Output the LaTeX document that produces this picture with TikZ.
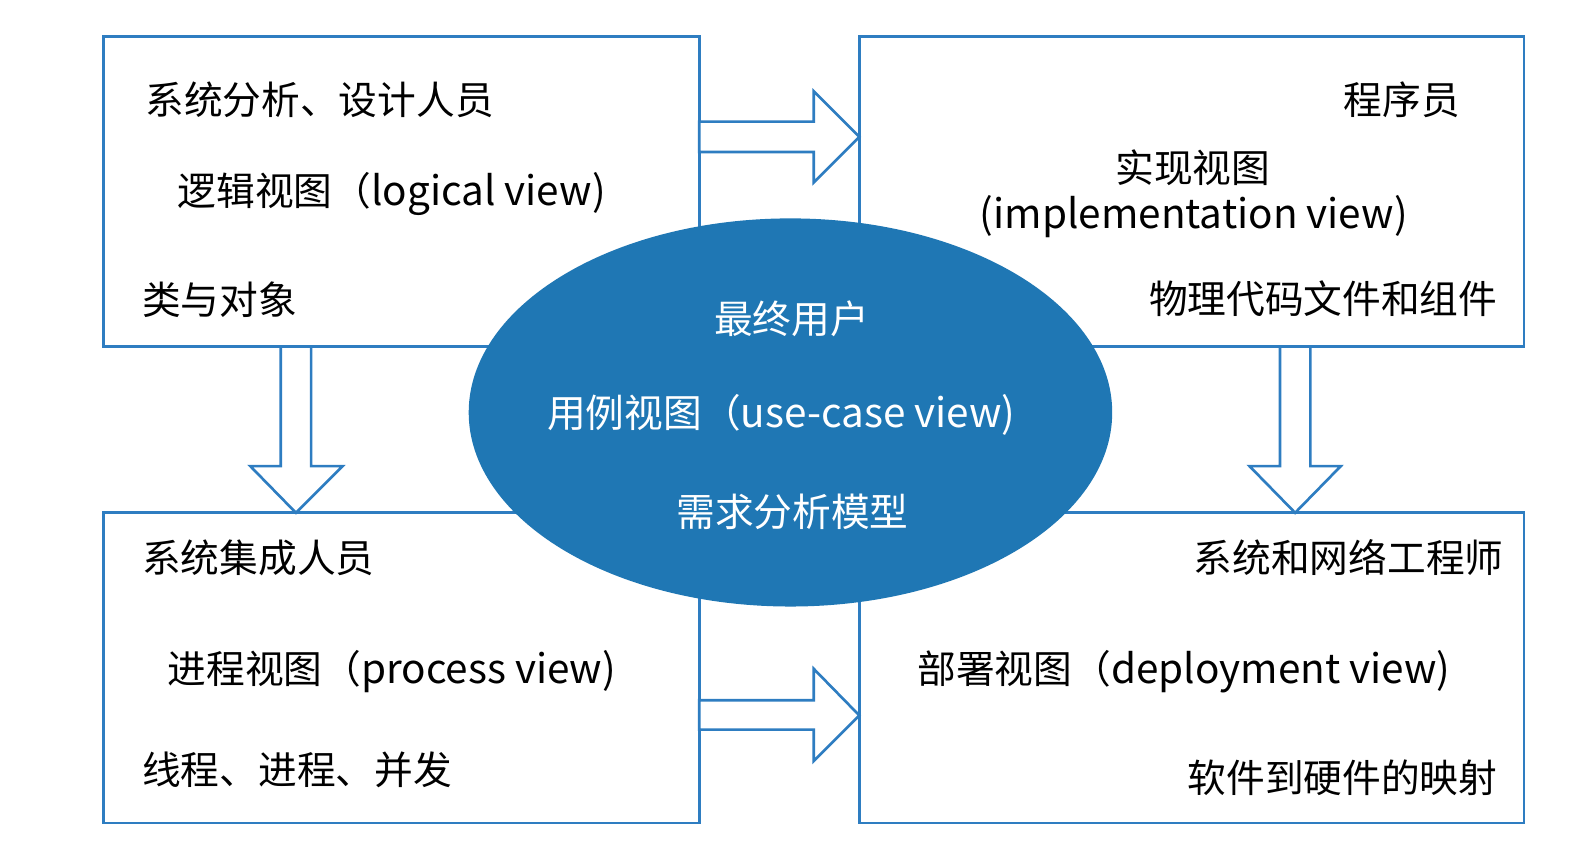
\documentclass[tikz,border=0pt]{standalone}
\usepackage{fontspec}
\setmainfont{Noto Sans CJK SC}
\newfontfamily\latfont[Scale=1.045]{Noto Sans CJK SC}
\newcommand{\lat}[1]{{\latfont #1}}
\usetikzlibrary{shapes.geometric}
\definecolor{lineblue}{RGB}{46,125,193}
\definecolor{fillblue}{RGB}{31,119,180}
\tikzset{
  box/.style={draw=lineblue, line width=1.3pt, fill=white, anchor=north west, inner sep=0pt, outer sep=0pt, minimum width=294pt, minimum height=153pt},
  boxw/.style={box, minimum width=328pt},
  bigarrow/.style={draw=lineblue, line width=1.3pt, fill=white, line join=miter},
  txt/.style={inner sep=0pt, font=\fontsize{19.1}{23}\selectfont, text=black},
  wtxt/.style={txt, text=white},
  usecase/.style={ellipse, fill=fillblue, draw=none, inner sep=0pt, minimum width=317.5pt, minimum height=191.5pt}
}
\begin{document}
\begin{tikzpicture}[x=0.5pt, y=-0.5pt]
\useasboundingbox (0,0) rectangle (1568,853);
% boxes
\node[box] (tl) at (102,36) {};
\node[boxw] (tr) at (848,36) {};
\node[box] (bl) at (102,506) {};
\node[boxw] (br) at (848,506) {};
% arrows
\draw[bigarrow] (690,120) -- (803,120) -- (803,90) -- (848,135) -- (803,180) -- (803,150) -- (690,150) -- cycle;
\draw[bigarrow] (690,691) -- (803,691) -- (803,660) -- (848,706) -- (803,751) -- (803,720) -- (690,720) -- cycle;
\draw[bigarrow] (277,342) -- (277,460) -- (247,460) -- (292,506) -- (338,460) -- (307,460) -- (307,342) -- cycle;
\draw[bigarrow] (1263,342) -- (1263,460) -- (1233,460) -- (1278,506) -- (1323,460) -- (1293,460) -- (1293,342) -- cycle;
% ellipse
\node[usecase] (uc) at (780,407) {};
% texts top-left
\node[txt, anchor=west] (tl1) at (143,98) {系统分析、设计人员};
\node[txt, anchor=west] (tl2) at (175,191) {逻辑视图（\lat{logical view)}};
\node[txt, anchor=west] (tl3) at (140,296) {类与对象};
% texts top-right
\node[txt, anchor=east] (tr1) at (1441,98) {程序员};
\node[txt] (tr2) at (1177,165) {实现视图};
\node[txt] (tr3) at (1178,214) {\lat{(implementation view)}};
\node[txt, anchor=east] (tr4) at (1478,295) {物理代码文件和组件};
% texts bottom-left
\node[txt, anchor=west] (bl1) at (140,550) {系统集成人员};
\node[txt, anchor=west] (bl2) at (165,663) {进程视图（\lat{process view)}};
\node[txt, anchor=west] (bl3) at (140,760) {线程、进程、并发};
% texts bottom-right
\node[txt, anchor=east] (br1) at (1484,550) {系统和网络工程师};
\node[txt, anchor=west] (br2) at (905,663) {部署视图（\lat{deployment view)}};
\node[txt, anchor=east] (br3) at (1478,767) {软件到硬件的映射};
% ellipse texts
\node[wtxt] (uc1) at (781,315) {最终用户};
\node[wtxt] (uc2) at (771,409) {用例视图（\lat{use-case view)}};
\node[wtxt] (uc3) at (782,505) {需求分析模型};
\end{tikzpicture}
\end{document}
